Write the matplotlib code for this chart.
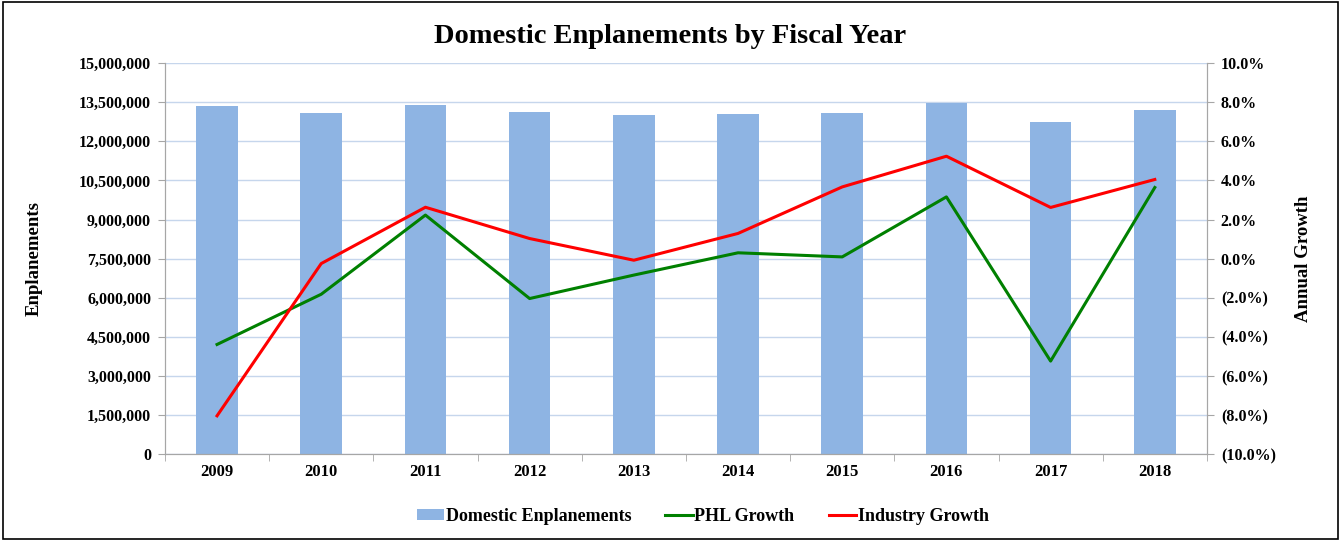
import matplotlib.pyplot as plt
import matplotlib.ticker as mticker
import numpy as np

plt.rcParams['font.family'] = ['Liberation Serif', 'DejaVu Serif']
plt.rcParams['font.weight'] = 'bold'

years = ['2009', '2010', '2011', '2012', '2013', '2014', '2015', '2016', '2017', '2018']
enplanements = [13350000, 13090000, 13390000, 13120000, 13020000,
                13040000, 13070000, 13480000, 12760000, 13220000]
phl_growth = [-4.39, -1.82, 2.23, -2.04, -0.84, 0.30, 0.09, 3.16, -5.24, 3.64]
industry_growth = [-8.04, -0.25, 2.63, 1.03, -0.08, 1.29, 3.67, 5.24, 2.62, 4.05]

fig = plt.figure(figsize=(13.41, 5.4), dpi=100)
fig.patches.append(plt.Rectangle((0.002, 0.002), 0.996, 0.994, transform=fig.transFigure,
                                 fill=False, edgecolor='black', linewidth=1.2))
ax = fig.add_axes([0.123, 0.159, 0.777, 0.724])
ax2 = ax.twinx()

x = np.arange(len(years))
grid_color = '#c6d6ec'
axis_color = '#a6a6a6'

ax.bar(x, enplanements, width=0.4, color='#8eb4e3', label='Domestic Enplanements', zorder=2)
ax.set_ylim(0, 15000000)
ax.set_yticks(np.arange(0, 15000001, 1500000))
ax.yaxis.set_major_formatter(mticker.FuncFormatter(lambda v, p: f'{int(v):,}'))
ax.set_xlim(-0.5, len(years) - 0.5)
ax.set_xticks(x)
ax.set_xticklabels(years)
ax.set_xticks(np.arange(-0.5, len(years)), minor=True)
ax.tick_params(axis='x', which='major', length=0, pad=7, labelsize=12)
ax.tick_params(axis='x', which='minor', length=5, color=axis_color)
ax.tick_params(axis='y', length=5, color=axis_color, labelsize=11.5, pad=5)
ax.grid(axis='y', color=grid_color, linewidth=1, zorder=0)
ax.set_axisbelow(True)
ax.set_ylabel('Enplanements', fontsize=13.5, fontweight='bold', labelpad=26)

ax2.plot(x, phl_growth, color='#008000', linewidth=2.2, label='PHL Growth', zorder=3)
ax2.plot(x, industry_growth, color='#ff0000', linewidth=2.2, label='Industry Growth', zorder=3)
ax2.set_ylim(-10, 10)
ax2.set_yticks(np.arange(-10, 10.1, 2))
ax2.yaxis.set_major_formatter(mticker.FuncFormatter(
    lambda v, p: f'({abs(v):.1f}%)' if v < -1e-9 else f'{abs(v):.1f}%'))
ax2.tick_params(axis='y', length=5, color=axis_color, labelsize=11.5, pad=5)
ax2.set_ylabel('Annual Growth', fontsize=13.5, fontweight='bold', labelpad=14)

for a in (ax, ax2):
    a.spines['top'].set_visible(False)
    for s in ('left', 'right', 'bottom'):
        a.spines[s].set_color(axis_color)

fig.suptitle('Domestic Enplanements by Fiscal Year', fontsize=20.5, fontweight='bold', y=0.955)

h1, l1 = ax.get_legend_handles_labels()
h2, l2 = ax2.get_legend_handles_labels()
fig.legend(h1 + h2, l1 + l2, loc='center', bbox_to_anchor=(0.524, 0.044), ncol=3,
           frameon=False, fontsize=13, handlelength=1.5, handleheight=0.6,
           handletextpad=0.1, columnspacing=1.9)

fig.savefig('out.png', dpi=100)
